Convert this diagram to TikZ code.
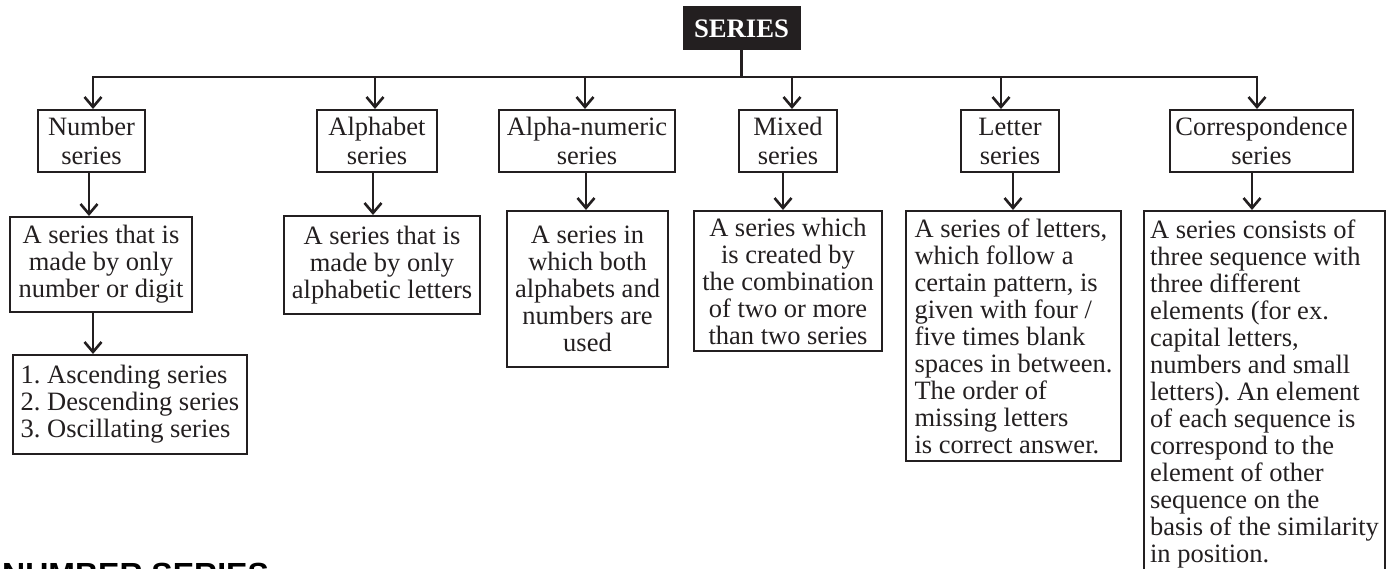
\documentclass[tikz,border=0pt]{standalone}
\usepackage{fontspec}
\setmainfont{Liberation Serif}
\newfontfamily\headsans{Liberation Sans}
\usetikzlibrary{arrows.meta}
\definecolor{ink}{HTML}{231F20}
\frenchspacing
\tikzset{
  boxbase/.style={draw=ink, line width=2pt, anchor=north west, inner sep=3pt, text=ink},
  titlebox/.style={boxbase, align=center, font=\fontsize{26.5}{29}\selectfont},
  descbox/.style={boxbase, align=center, font=\fontsize{26.5}{27}\selectfont},
  leftbox/.style={boxbase, align=left, font=\fontsize{26.5}{27}\selectfont},
  conn/.style={draw=ink, line width=2.7pt},
  arr/.style={conn, -{Straight Barb[length=10pt,width=17pt,line width=2.6pt]}},
}
\begin{document}
\begin{tikzpicture}[x=1pt,y=-1pt]
\useasboundingbox (0,0) rectangle (1389,569);
\clip (0,0) rectangle (1389,569);

% root
\node[fill=ink, draw=ink, line width=1pt, minimum width=117pt, minimum height=43pt, inner sep=0pt,
      text=white, font=\fontsize{26.7}{29}\selectfont\bfseries] (series) at (741.5,28.5) {SERIES};

% titles
\node[titlebox, minimum width=107pt, minimum height=62pt] (t1) at (37,109) {Number\\series};
\node[titlebox, minimum width=120pt, minimum height=62pt] (t2) at (316,109) {Alphabet\\series};
\node[titlebox, minimum width=176pt, minimum height=62pt] (t3) at (498,109) {Alpha-numeric\\series};
\node[titlebox, minimum width=98pt, minimum height=62pt] (t4) at (738,109) {Mixed\\series};
\node[titlebox, minimum width=98pt, minimum height=62pt] (t5) at (960,109) {Letter\\series};
\node[titlebox, minimum width=183pt, minimum height=62pt] (t6) at (1169,109) {Correspondence\\series};

% descriptions
\node[descbox, minimum width=182pt, minimum height=95pt] (d1) at (9,216)
  {A series that is\\made by only\\number or digit};
\node[descbox, minimum width=196pt, minimum height=98pt] (d2) at (283,215)
  {A series that is\\made by only\\alphabetic letters};
\node[descbox, minimum width=161pt, minimum height=156pt] (d3) at (506,210)
  {A series in\\which both\\alphabets and\\numbers are\\used};
\node[descbox, minimum width=188pt, minimum height=140pt] (d4) at (693,210)
  {A series which\\is created by\\the combination\\of two or more\\than two series};
\node[leftbox, minimum width=215pt, minimum height=250pt] (d5) at (905,210)
  {A series of letters,\\which follow a\\certain pattern, is\\given with four /\\five times blank\\spaces in between.\\The order of\\missing letters\\is correct answer.};
\node[leftbox, minimum width=241pt, minimum height=366pt] (d6) at (1143,210)
  {A series consists of\\three sequence with\\three different\\elements (for ex.\\capital letters,\\numbers and small\\letters). An element\\of each sequence is\\correspond to the\\element of other\\sequence on the\\basis of the similarity\\in position.};
\node[leftbox, minimum width=234pt, minimum height=99pt] (list) at (12,354)
  {1. Ascending series\\2. Descending series\\3. Oscillating series};

% heading (cut off at the bottom edge, as in the reference)
\node[anchor=base west, inner sep=0pt, text=black, font=\fontsize{32}{34}\selectfont\headsans\bfseries] (head) at (2,585) {NUMBER SERIES};

% connector x positions
\coordinate (bus) at (741.5,77);
\coordinate (a1) at (93,0);
\coordinate (a2) at (375,0);
\coordinate (a3) at (585,0);
\coordinate (a4) at (792,0);
\coordinate (a5) at (1001,0);
\coordinate (a6) at (1257,0);
\coordinate (b1) at (89,0);
\coordinate (b2) at (373,0);
\coordinate (b3) at (586,0);
\coordinate (b4) at (783,0);
\coordinate (b5) at (1013,0);
\coordinate (b6) at (1252,0);
\coordinate (b7) at (93,0);

% tree connectors
\draw[conn] (series.south) -- (bus);
\draw[arr] (bus) -| (a1 |- t1.north);
\draw[arr] (bus) -| (a6 |- t6.north);
\draw[arr] (a2 |- bus) -- (a2 |- t2.north);
\draw[arr] (a3 |- bus) -- (a3 |- t3.north);
\draw[arr] (a4 |- bus) -- (a4 |- t4.north);
\draw[arr] (a5 |- bus) -- (a5 |- t5.north);

\draw[arr] (b1 |- t1.south) -- (b1 |- d1.north);
\draw[arr] (b2 |- t2.south) -- (b2 |- d2.north);
\draw[arr] (b3 |- t3.south) -- (b3 |- d3.north);
\draw[arr] (b4 |- t4.south) -- (b4 |- d4.north);
\draw[arr] (b5 |- t5.south) -- (b5 |- d5.north);
\draw[arr] (b6 |- t6.south) -- (b6 |- d6.north);
\draw[arr] (b7 |- d1.south) -- (b7 |- list.north);
\end{tikzpicture}
\end{document}
